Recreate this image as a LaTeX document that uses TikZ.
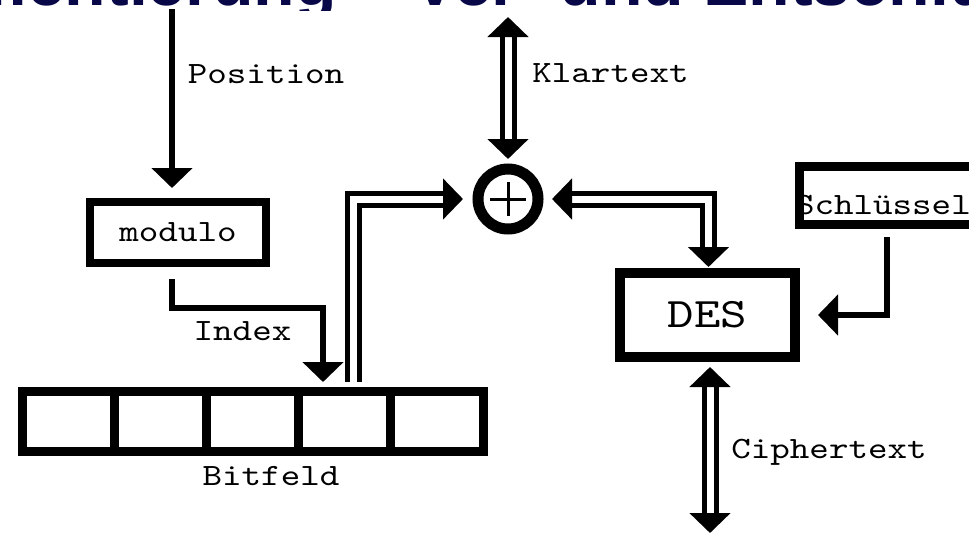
\documentclass[tikz,border=0pt]{standalone}
\usepackage{fontspec}
\usetikzlibrary{arrows.meta,calc}
\newfontfamily\labelfont{lmmono10-regular}[Extension=.otf, FakeStretch=1.2]
\newfontfamily\titlefont{Liberation Sans}
\definecolor{titleblue}{RGB}{8,8,72}

\begin{document}
\begin{tikzpicture}[x=1pt,y=-1pt,
  every node/.style={inner sep=0pt, outer sep=0pt},
  >={Triangle[width=40pt,length=20pt]},
  lbl/.style={font=\labelfont\fontsize{31}{34}\selectfont, anchor=base},
  blk/.style={draw, rectangle, line width=#1,
              font=\labelfont\fontsize{31}{34}\selectfont},
  cell/.style={draw, rectangle, line width=9pt,
               minimum width=92.2pt, minimum height=60pt},
  xorring/.style={draw, circle, line width=11pt, minimum size=60pt},
  wire/.style={line width=6pt, line join=miter, ->},
  dbl/.style={double, line width=5pt, double distance=7pt, line join=miter}
]
\useasboundingbox (0,0) rectangle (969,533);

% heading: only its lowest strip shows along the top edge
\begin{scope}
  \clip (-300,-100) rectangle (1200,10);
  \node[anchor=base west, text=titleblue,
        font=\titlefont\bfseries\fontsize{68}{72}\selectfont] (title)
    at (-211,5) {Implementierung – Ver- und Entschlüsselung};
\end{scope}

% blocks
\node[blk=8pt, minimum width=176pt, minimum height=61pt] (modulo) at (178,232.5) {modulo};
\node[blk=10pt, minimum width=175pt, minimum height=84pt,
      font=\labelfont\fontsize{42}{46}\selectfont] (DES) at (707.5,315) {DES};
\node[blk=9pt, minimum width=200pt, minimum height=58pt, anchor=west] (key) at (799.5,195.5) {};
\node[lbl, anchor=base west] (keylabel) at (795,214) {Schlüssel};

% bit field with five cells
\node[cell] (b1) at (68.1,421.5) {};
\node[cell] (b2) at (160.3,421.5) {};
\node[cell] (b3) at (252.5,421.5) {};
\node[cell] (b4) at (344.7,421.5) {};
\node[cell] (b5) at (436.9,421.5) {};

% XOR symbol
\node[xorring] (xor) at (508,199) {};
\draw[line width=3pt] ([xshift=-18pt]xor.center) -- ([xshift=18pt]xor.center);
\draw[line width=3pt] ([yshift=17pt]xor.center) -- ([yshift=-17pt]xor.center);

% free ends
\coordinate (ptop) at (172,9);
\coordinate (ktop) at (508,17);
\coordinate (cbot) at (710,533);
\coordinate (kx) at (887,0);

% connectors
\draw[wire, shorten >=14pt] (ptop) -- (ptop |- modulo.north);
\draw[wire, shorten <=16pt, shorten >=9.5pt]
  ([xshift=-6pt]modulo.south) -- ++(0,45) -| ([xshift=-21.7pt]b4.north);
\draw[dbl, ->, shorten <=9.5pt, shorten >=15pt] ([xshift=9pt]b4.north) |- (xor.west);
\draw[dbl, <->, shorten >=10pt] (ktop) -- (xor.north);
\draw[dbl, <->, shorten <=14pt, shorten >=6pt] (xor.east) -| ([xshift=1pt]DES.north);
\draw[dbl, <->, shorten <=10pt] (DES.south -| cbot) -- (cbot);
\draw[wire, shorten <=12.5pt, shorten >=23pt] (kx |- key.south) |- (DES.east);

% labels
\node[lbl] (lpos) at (266,83) {Position};
\node[lbl] (lklar) at (610.5,82) {Klartext};
\node[lbl] (lindex) at (242.5,340) {Index};
\node[lbl] (lbit) at (271,485) {Bitfeld};
\node[lbl] (lciph) at (829,458) {Ciphertext};
\end{tikzpicture}
\end{document}
